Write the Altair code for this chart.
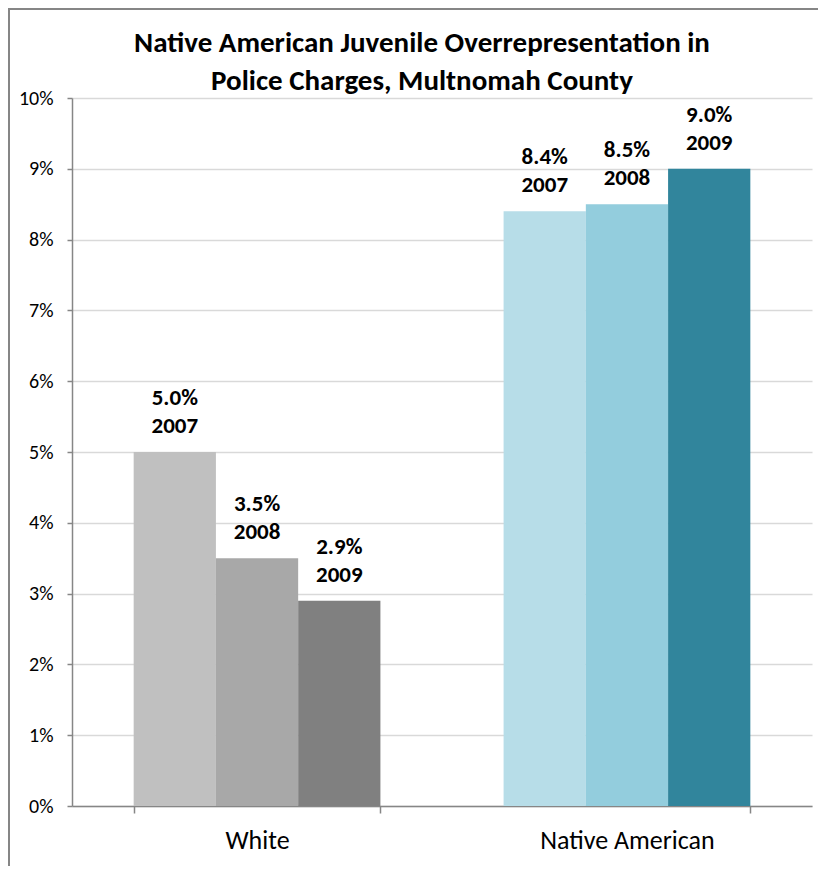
import altair as alt
import pandas as pd

groups = ["White", "White", "White", "Native American", "Native American", "Native American"]
years = ["2007", "2008", "2009", "2007", "2008", "2009"]
values = [0.050, 0.035, 0.029, 0.084, 0.085, 0.090]
colors = ["#c0c0c0", "#a8a8a8", "#808080", "#b7dde8", "#93cddd", "#31859c"]
y_ticks = [0.0, 0.01, 0.02, 0.03, 0.04, 0.05, 0.06, 0.07, 0.08, 0.09, 0.10]
title_lines = ["Native American Juvenile Overrepresentation in", "Police Charges, Multnomah County"]

FONT = "Carlito, Calibri, Lato, sans-serif"
GRAY = "#868686"

df = pd.DataFrame({"group": groups, "year": years, "value": values})
df["key"] = df["group"] + " " + df["year"]
df["label"] = [f"{v*100:.1f}%\n{y}" for v, y in zip(values, years)]
keys = list(df["key"])

x = alt.X(
    "group:N",
    sort=["White", "Native American"],
    scale=alt.Scale(paddingInner=0.333, paddingOuter=0.1667),
    axis=alt.Axis(
        title=None, labelAngle=0, labelFontSize=26, labelFont=FONT, labelColor="#000000",
        labelPadding=14, tickBand="extent", tickSize=7, tickColor=GRAY,
        domainColor=GRAY, domainWidth=1.5, tickWidth=1.5, grid=False,
    ),
)
xoff = alt.XOffset("year:N", scale=alt.Scale(paddingInner=0, paddingOuter=0))
y = alt.Y(
    "value:Q",
    scale=alt.Scale(domain=[0, 0.1], nice=False),
    axis=alt.Axis(
        title=None, values=y_ticks, format=".0%", labelFontSize=20, labelFont=FONT,
        labelColor="#000000", labelPadding=14, tickSize=5, tickColor=GRAY,
        domainColor=GRAY, domainWidth=1.5, tickWidth=1.5,
        gridColor="#d9d9d9", gridWidth=1.5,
    ),
)

bars = alt.Chart(df).mark_bar().encode(
    x=x, xOffset=xoff, y=y,
    color=alt.Color("key:N", scale=alt.Scale(domain=keys, range=colors), legend=None),
)

labels = alt.Chart(df).mark_text(
    baseline="bottom", dy=-42, fontSize=23, fontWeight="bold", font=FONT,
    lineHeight=28, lineBreak="\n", color="#000000",
).encode(x=x, xOffset=xoff, y=y, text="label:N")

one = pd.DataFrame({"a": [0]})
frame = alt.Chart(one).mark_rect(
    fill="transparent", stroke=GRAY, strokeWidth=2
).encode(
    x=alt.value(-63), x2=alt.value(800), y=alt.value(-89), y2=alt.value(820)
)

title = alt.Chart(one).mark_text(
    text=title_lines, fontSize=29, fontWeight="bold", font=FONT, align="center",
    baseline="alphabetic", lineHeight=38, color="#000000",
).encode(x=alt.value(350), y=alt.value(-46))

chart = alt.layer(frame, title, bars, labels).properties(
    width=740,
    height=708,
    autosize=alt.AutoSizeParams(type="none"),
    padding={"left": 64, "top": 90, "right": 6, "bottom": 60},
).configure_view(stroke=None)

chart.save("out.html", embed_options={"renderer": "svg", "actions": False})
